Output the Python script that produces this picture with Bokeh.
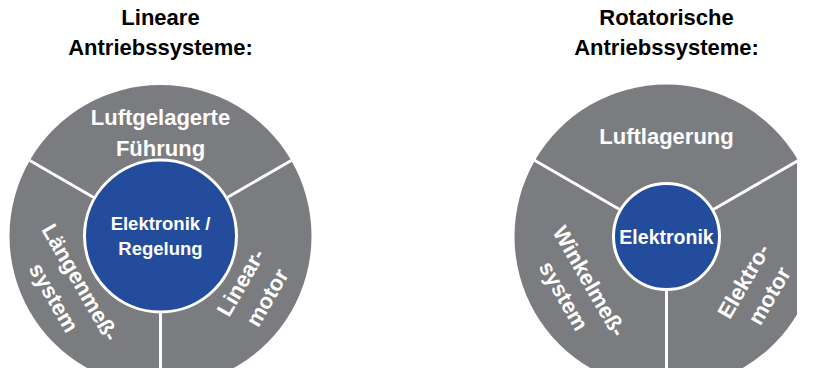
import math
from bokeh.plotting import figure
from bokeh.models import Range1d, ColumnDataSource
from bokeh.core.properties import value
from bokeh.embed import file_html
from bokeh.resources import INLINE

# ---------------- data ----------------
titles = ["Lineare\nAntriebssysteme:", "Rotatorische\nAntriebssysteme:"]
center_labels = ["Elektronik /\nRegelung", "Elektronik"]
left_segments = ["Luftgelagerte\nFührung", "Längenmeß-\nsystem", "Linear-\nmotor"]
right_segments = ["Luftlagerung", "Winkelmeß-\nsystem", "Elektro-\nmotor"]
segment_shares = [1, 1, 1]          # three equal sectors
start_angle_deg = 30                # first boundary

# ---------------- layout (picture pixels) ----------------
W, H = 797, 368
def px(x):
    return x
def py(y):
    return H - y

GRAY = "#7b7c80"
BLUE = "#234c9d"
FONT = "Liberation Sans"

diagrams = [
    dict(cx=160, cy=235.5, r_out=151, r_in=76, segs=left_segments,
         center=center_labels[0], title=titles[0], center_size="18.5px",
         r_top=103, r_side=108, line_h=1.22),
    dict(cx=666, cy=236, r_out=152, r_in=53, segs=right_segments,
         center=center_labels[1], title=titles[1], center_size="19.5px",
         r_top=100, r_side=104, line_h=1.18),
]

p = figure(width=W, height=H, x_range=Range1d(0, W), y_range=Range1d(0, H),
           output_backend="svg", toolbar_location=None,
           x_axis_location=None, y_axis_location=None, min_border=0)
p.grid.visible = False
p.outline_line_color = None
p.background_fill_color = "white"
p.border_fill_color = "white"

total = sum(segment_shares)
for d in diagrams:
    cx, cy = px(d["cx"]), py(d["cy"])
    starts, ends, mids = [], [], []
    a = start_angle_deg
    for s in segment_shares:
        span = 360 * s / total
        starts.append(math.radians(a))
        ends.append(math.radians(a + span))
        mids.append(a + span / 2)
        a += span
    n = len(segment_shares)
    src = ColumnDataSource(dict(x=[cx] * n, y=[cy] * n, s=starts, e=ends))
    p.wedge(x="x", y="y", radius=d["r_out"], start_angle="s", end_angle="e",
            source=src, fill_color=GRAY, line_color=None)
    # separators
    x0 = [cx + d["r_in"] * math.cos(t) for t in starts]
    y0 = [cy + d["r_in"] * math.sin(t) for t in starts]
    x1 = [cx + (d["r_out"] + 2) * math.cos(t) for t in starts]
    y1 = [cy + (d["r_out"] + 2) * math.sin(t) for t in starts]
    p.segment(x0=x0, y0=y0, x1=x1, y1=y1, line_color="white", line_width=3)
    # inner circle
    p.circle(x=[cx], y=[cy], radius=d["r_in"], fill_color=BLUE,
             line_color="white", line_width=3)
    p.text(x=[cx], y=[cy], text=[d["center"]], text_color="white",
           text_font=value(FONT), text_font_style="bold",
           text_font_size=d["center_size"], text_align="center",
           text_baseline="middle", text_line_height=1.2)
    # segment labels
    lx, ly, la = [], [], []
    for m in mids:
        rr = d["r_top"] if abs(m - 90) < 1 else d["r_side"]
        lx.append(cx + rr * math.cos(math.radians(m)))
        ly.append(cy + rr * math.sin(math.radians(m)))
        rot = m - 90
        while rot > 90:
            rot -= 180
        while rot <= -90:
            rot += 180
        la.append(math.radians(rot))
    p.text(x=lx, y=ly, text=d["segs"], angle=la, text_color="white",
           text_font=value(FONT), text_font_style="bold",
           text_font_size="22px", text_align="center",
           text_baseline="middle", text_line_height=d["line_h"])
    # title
    p.text(x=[cx], y=[py(32)], text=[d["title"]], text_color="black",
           text_font=value(FONT), text_font_style="bold",
           text_font_size="22px", text_align="center",
           text_baseline="middle", text_line_height=1.18)

open("out.html", "w").write(file_html(p, INLINE))
